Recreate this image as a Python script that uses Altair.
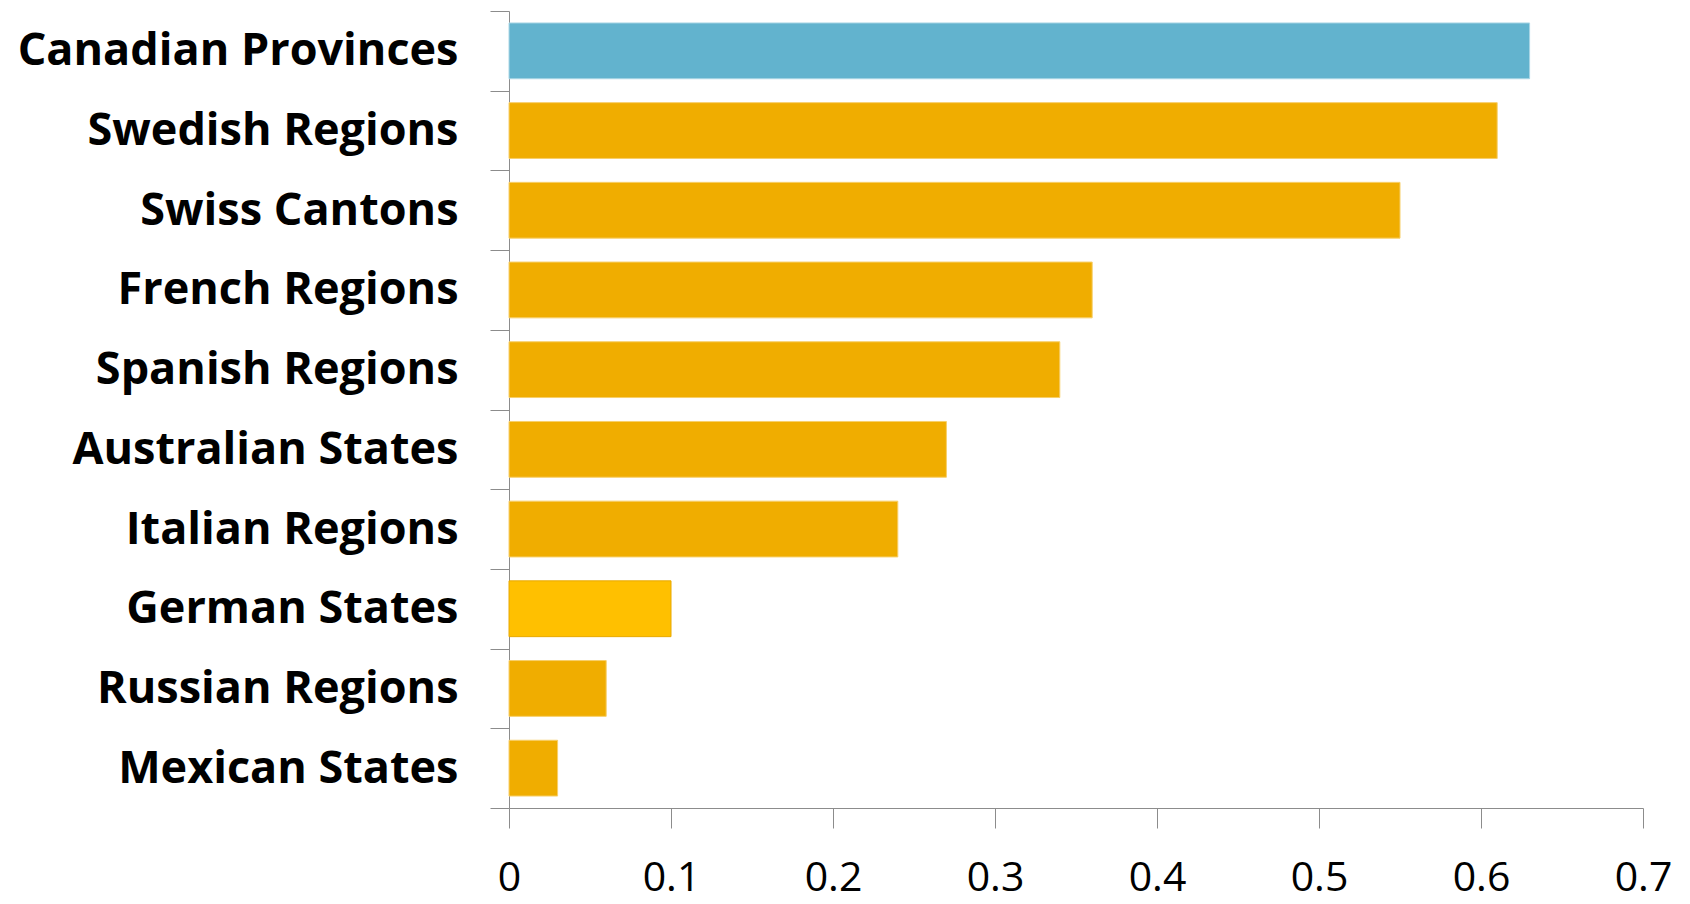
import altair as alt
import pandas as pd

# Regional share values, top to bottom
regions = [
    "Canadian Provinces", "Swedish Regions", "Swiss Cantons", "French Regions",
    "Spanish Regions", "Australian States", "Italian Regions", "German States",
    "Russian Regions", "Mexican States",
]
values = [0.63, 0.61, 0.55, 0.36, 0.34, 0.27, 0.24, 0.10, 0.06, 0.03]
bar_colors = ["#62B3CE", "#F0AD00", "#F0AD00", "#F0AD00", "#F0AD00",
              "#F0AD00", "#F0AD00", "#FFC000", "#F0AD00", "#F0AD00"]
edge_colors = ["#A9D6E5", "#F7CF6A", "#F7CF6A", "#F7CF6A", "#F7CF6A",
               "#F7CF6A", "#F7CF6A", "#E8A800", "#F7CF6A", "#F7CF6A"]
x_ticks = [0, 0.1, 0.2, 0.3, 0.4, 0.5, 0.6, 0.7]

df = pd.DataFrame({"region": regions, "value": values,
                   "fill": bar_colors, "edge": edge_colors})

chart = (
    alt.Chart(df)
    .mark_bar(strokeWidth=1, height={"band": 0.7})
    .encode(
        y=alt.Y(
            "region:N", sort=regions, title=None,
            scale=alt.Scale(paddingInner=0, paddingOuter=0),
            axis=alt.Axis(
                tickBand="extent", tickSize=19, tickColor="#8C8C8C",
                domainColor="#8C8C8C", labelFont="Open Sans", labelFontWeight="bold",
                labelFontSize=45, labelColor="#000000", labelPadding=32,
                labelLimit=0,
            ),
        ),
        x=alt.X(
            "value:Q", title=None,
            scale=alt.Scale(domain=[0, 0.7], nice=False),
            axis=alt.Axis(
                values=x_ticks, format="~g", grid=False, tickSize=20,
                tickColor="#8C8C8C", domainColor="#8C8C8C", labelFont="Open Sans",
                labelFontSize=41, labelColor="#000000", labelPadding=30,
                labelFlush=False,
            ),
        ),
        color=alt.Color("fill:N", scale=None),
        stroke=alt.Stroke("edge:N", scale=None),
    )
    .properties(
        width=1134, height=797,
        background="#FFFFFF",
        autosize=alt.AutoSizeParams(type="none"),
        padding={"left": 509, "top": 11, "right": 47, "bottom": 96},
    )
    .configure_view(strokeWidth=0, stroke=None)
)

chart.save("out.html", embed_options={"renderer": "svg", "actions": False})
